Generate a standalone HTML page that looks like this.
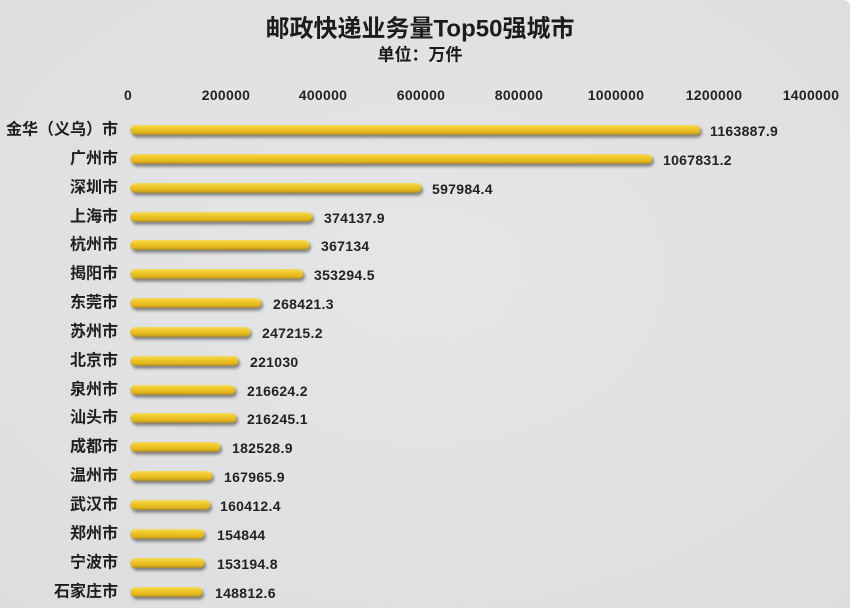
<!DOCTYPE html>
<html>
<head>
<meta charset="utf-8">
<style>
  html,body{margin:0;padding:0;background:#ffffff;}
  body{width:850px;height:608px;overflow:hidden;}
  svg{display:block;}
  .t{font-family:"Liberation Sans","Noto Sans CJK SC",sans-serif;font-weight:bold;fill:#1c1c1c;}
  .c{font-family:"Liberation Sans","Noto Sans CJK SC",sans-serif;font-weight:bold;fill:#1e1e1e;font-size:16px;}
  .n{font-family:"Liberation Sans",sans-serif;font-weight:bold;fill:#222;font-size:14px;letter-spacing:0.3px;}
</style>
</head>
<body>
<svg width="850" height="608" viewBox="0 0 850 608" xmlns="http://www.w3.org/2000/svg">
  <defs>
    <radialGradient id="bg" cx="50%" cy="45%" r="75%">
      <stop offset="0" stop-color="#e5e6e8"/>
      <stop offset="1" stop-color="#dcdddf"/>
    </radialGradient>
    <linearGradient id="bar" x1="0" y1="0" x2="0" y2="1">
      <stop offset="0" stop-color="#f6dc5a"/>
      <stop offset="0.35" stop-color="#f0c82a"/>
      <stop offset="0.75" stop-color="#e2b41a"/>
      <stop offset="1" stop-color="#a88a2a"/>
    </linearGradient>
    <filter id="sh" x="-5%" y="-60%" width="110%" height="260%">
      <feGaussianBlur in="SourceAlpha" stdDeviation="1.6"/>
      <feOffset dx="2" dy="2.5" result="b"/>
      <feComponentTransfer><feFuncA type="linear" slope="0.45"/></feComponentTransfer>
      <feMerge><feMergeNode/><feMergeNode in="SourceGraphic"/></feMerge>
    </filter>
  </defs>
  <path d="M0 0 H843 Q850 0 850 7 V608 H0 Z" fill="url(#bg)"/>

  <text class="t" x="420" y="29" font-size="24" text-anchor="middle" dominant-baseline="central">邮政快递业务量Top50强城市</text>
  <text class="t" x="420" y="55" font-size="17" text-anchor="middle" dominant-baseline="central">单位：万件</text>

  <g class="n" text-anchor="middle" dominant-baseline="central">
    <text x="128" y="95">0</text>
    <text x="226" y="95">200000</text>
    <text x="323" y="95">400000</text>
    <text x="421" y="95">600000</text>
    <text x="519" y="95">800000</text>
    <text x="616" y="95">1000000</text>
    <text x="714" y="95">1200000</text>
    <text x="811" y="95">1400000</text>
  </g>

  <g filter="url(#sh)" fill="url(#bar)">
    <rect x="130" y="125" width="570" height="10" rx="5"/>
    <rect x="130" y="154" width="522" height="10" rx="5"/>
    <rect x="130" y="183" width="291" height="10" rx="5"/>
    <rect x="130" y="212" width="182" height="10" rx="5"/>
    <rect x="130" y="240" width="179" height="10" rx="5"/>
    <rect x="130" y="269" width="173" height="10" rx="5"/>
    <rect x="130" y="298" width="131" height="10" rx="5"/>
    <rect x="130" y="327" width="120" height="10" rx="5"/>
    <rect x="130" y="356" width="108" height="10" rx="5"/>
    <rect x="130" y="385" width="105" height="10" rx="5"/>
    <rect x="130" y="413" width="106" height="10" rx="5"/>
    <rect x="130" y="442" width="90" height="10" rx="5"/>
    <rect x="130" y="471" width="82" height="10" rx="5"/>
    <rect x="130" y="500" width="80" height="10" rx="5"/>
    <rect x="130" y="529" width="74" height="10" rx="5"/>
    <rect x="130" y="558" width="74" height="10" rx="5"/>
    <rect x="130" y="587" width="72" height="10" rx="5"/>
  </g>

  <g class="c" text-anchor="end" dominant-baseline="central">
    <text x="118" y="130">金华（义乌）市</text>
    <text x="118" y="159">广州市</text>
    <text x="118" y="188">深圳市</text>
    <text x="118" y="217">上海市</text>
    <text x="118" y="245">杭州市</text>
    <text x="118" y="274">揭阳市</text>
    <text x="118" y="303">东莞市</text>
    <text x="118" y="332">苏州市</text>
    <text x="118" y="361">北京市</text>
    <text x="118" y="390">泉州市</text>
    <text x="118" y="418">汕头市</text>
    <text x="118" y="447">成都市</text>
    <text x="118" y="476">温州市</text>
    <text x="118" y="505">武汉市</text>
    <text x="118" y="534">郑州市</text>
    <text x="118" y="563">宁波市</text>
    <text x="118" y="592">石家庄市</text>
  </g>

  <g class="n" dominant-baseline="central">
    <text x="710" y="131">1163887.9</text>
    <text x="663" y="160">1067831.2</text>
    <text x="432" y="189">597984.4</text>
    <text x="324" y="218">374137.9</text>
    <text x="321" y="246">367134</text>
    <text x="314" y="275">353294.5</text>
    <text x="273" y="304">268421.3</text>
    <text x="262" y="333">247215.2</text>
    <text x="250" y="362">221030</text>
    <text x="247" y="391">216624.2</text>
    <text x="247" y="419">216245.1</text>
    <text x="232" y="448">182528.9</text>
    <text x="224" y="477">167965.9</text>
    <text x="220" y="506">160412.4</text>
    <text x="217" y="535">154844</text>
    <text x="217" y="564">153194.8</text>
    <text x="215" y="593">148812.6</text>
  </g>
</svg>
</body>
</html>
